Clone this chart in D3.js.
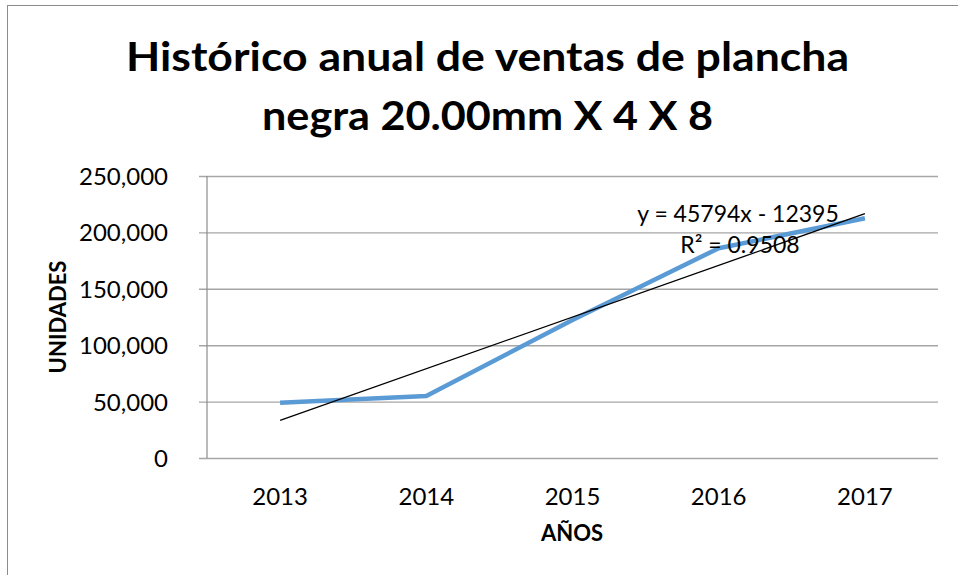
<!DOCTYPE html>
<html>
<head>
<meta charset="utf-8">
<script src="https://cdn.jsdelivr.net/npm/d3@7"></script>
<style>
  html, body { margin: 0; padding: 0; background: #fff; }
  svg { display: block; }
  text { font-family: Lato, "Open Sans", sans-serif; fill: #000; }
</style>
</head>
<body>
<svg id="chart" width="958" height="575"></svg>
<script>
// ---- data ----
const years = ["2013", "2014", "2015", "2016", "2017"];
const units = [49000, 55000, 122400, 186000, 212500];
const yTicks = [0, 50000, 100000, 150000, 200000, 250000];
const titleLines = ["Histórico anual de ventas de plancha", "negra 20.00mm X 4 X 8"];
const xTitle = "AÑOS";
const yTitle = "UNIDADES";

const W = 958, H = 575;
const plot = { left: 207, right: 938, top: 176, bottom: 458 };

const svg = d3.select("#chart");

// outer chart border
svg.append("rect")
  .attr("x", 7.5).attr("y", 5.5)
  .attr("width", W + 10).attr("height", H + 10)
  .attr("fill", "#fff").attr("stroke", "#8c8c8c").attr("stroke-width", 1);

const x = d3.scaleBand().domain(years).range([plot.left, plot.right]).padding(0);
const y = d3.scaleLinear().domain([0, 250000]).range([plot.bottom, plot.top]);
const xc = d => x(d) + x.bandwidth() / 2;

// gridlines + y ticks
const yAxis = d3.axisLeft(y)
  .tickValues(yTicks)
  .tickSize(-(plot.right - plot.left))
  .tickFormat(d3.format(","))
  .tickPadding(0);

const gy = svg.append("g").attr("transform", `translate(${plot.left},0)`).call(yAxis);
gy.select(".domain").remove();
gy.selectAll(".tick line")
  .attr("x1", -8)
  .attr("stroke", "#a6a6a6").attr("stroke-width", 1.4);
gy.selectAll(".tick text")
  .attr("x", -39)
  .attr("dy", "0.35em")
  .style("font-size", "24px")
  .style("font-family", "Lato, sans-serif")
  .attr("fill", "#000");

// y axis line
svg.append("line")
  .attr("x1", plot.left).attr("x2", plot.left)
  .attr("y1", plot.top).attr("y2", plot.bottom)
  .attr("stroke", "#8c8c8c").attr("stroke-width", 1.2);

// x axis labels
const xAxis = d3.axisBottom(x).tickSize(0).tickPadding(0);
const gx = svg.append("g").attr("transform", `translate(0,${plot.bottom})`).call(xAxis);
gx.select(".domain").remove();
gx.selectAll(".tick text")
  .attr("y", 47).attr("dy", 0)
  .style("font-size", "24px")
  .style("font-family", "Lato, sans-serif")
  .attr("fill", "#000");

// data line
const line = d3.line().x((d, i) => xc(years[i])).y(d => y(d));
svg.append("path")
  .datum(units)
  .attr("d", line)
  .attr("fill", "none")
  .attr("stroke", "#5b9bd5")
  .attr("stroke-width", 4.5)
  .attr("stroke-linejoin", "round");

// linear trendline (least squares, x = 1..n)
const n = units.length;
const xs = units.map((d, i) => i + 1);
const mx = d3.mean(xs), my = d3.mean(units);
const sxy = d3.sum(xs.map((xi, i) => (xi - mx) * (units[i] - my)));
const sxx = d3.sum(xs.map(xi => (xi - mx) * (xi - mx)));
const slope = sxy / sxx, intercept = my - slope * mx;

svg.append("line")
  .attr("x1", xc(years[0])).attr("y1", y(slope * 1 + intercept))
  .attr("x2", xc(years[n - 1])).attr("y2", y(slope * n + intercept))
  .attr("stroke", "#000").attr("stroke-width", 1.3);

// trendline label (Excel-style)
const eqText = `y = 45794x - 12395`;
const r2Text = `R² = 0.9508`;
svg.append("text").attr("x", 738).attr("y", 222).attr("text-anchor", "middle")
  .style("font-size", "23px").text(eqText);
svg.append("text").attr("x", 740).attr("y", 253).attr("text-anchor", "middle")
  .style("font-size", "23px").text(r2Text);

// title
const titleY = [71, 130];
const titleWidths = [723, 451];
titleLines.forEach((t, i) => {
  svg.append("text")
    .attr("x", 487.5).attr("y", titleY[i])
    .attr("text-anchor", "middle")
    .attr("textLength", titleWidths[i])
    .attr("lengthAdjust", "spacingAndGlyphs")
    .style("font-size", "40px").style("font-weight", "bold")
    .text(t);
});

// axis titles
svg.append("text")
  .attr("x", 572).attr("y", 541)
  .attr("text-anchor", "middle")
  .style("font-size", "22px").style("font-weight", "bold")
  .text(xTitle);

svg.append("text")
  .attr("transform", "translate(66,317) rotate(-90)")
  .attr("text-anchor", "middle")
  .style("font-size", "22px").style("font-weight", "bold")
  .text(yTitle);
</script>
</body>
</html>
